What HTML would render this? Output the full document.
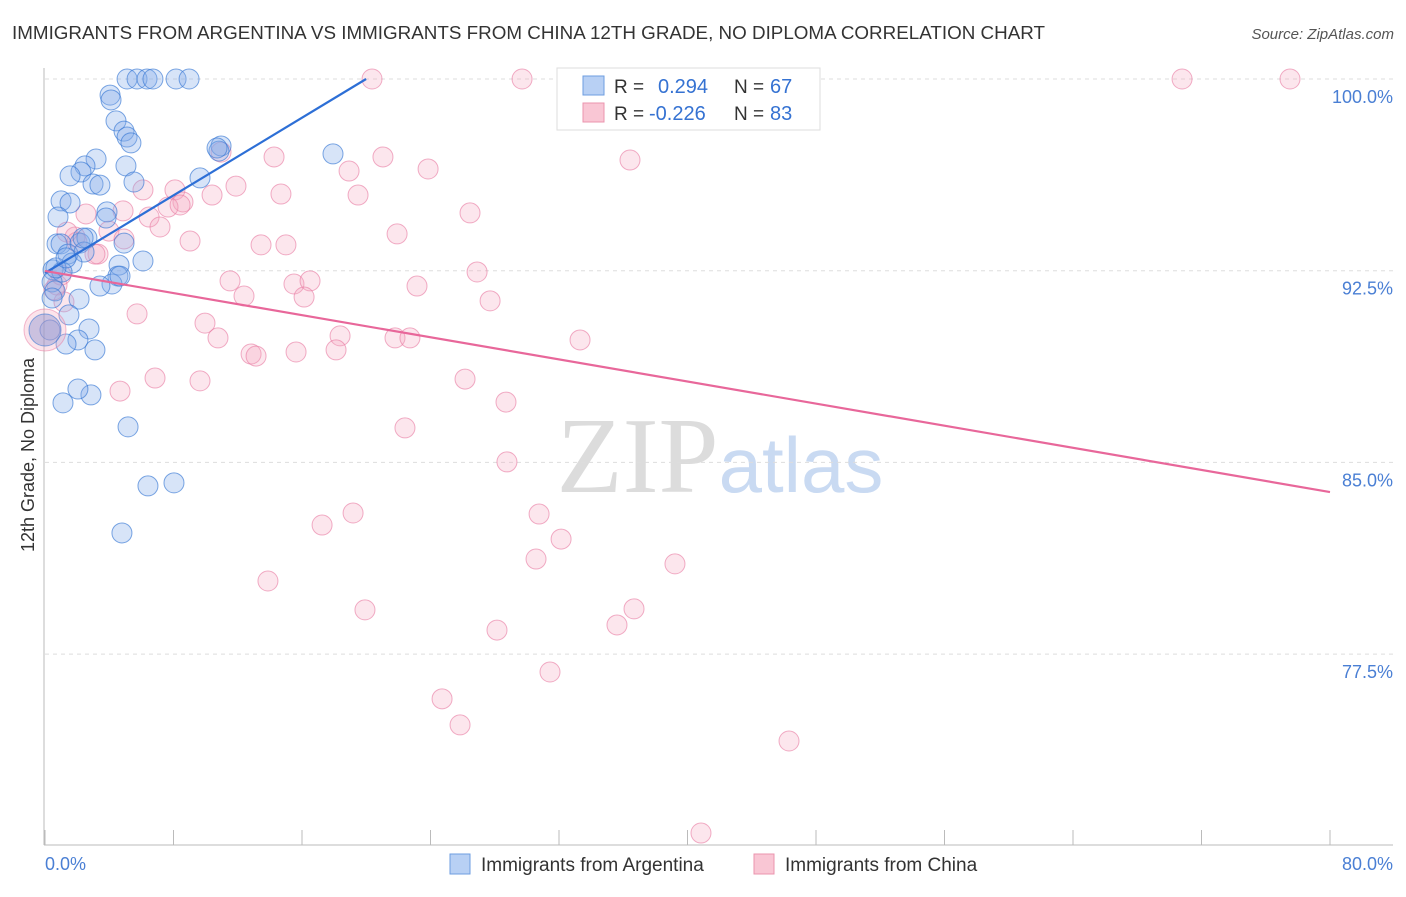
<!DOCTYPE html>
<html><head><meta charset="utf-8"><style>
body{margin:0;background:#fff;font-family:"Liberation Sans",sans-serif;}
svg text{font-family:"Liberation Sans",sans-serif;}
</style></head><body>
<svg id="chart" width="1406" height="892" xmlns="http://www.w3.org/2000/svg">
<text x="12" y="39" font-size="18" fill="#333" textLength="1033" lengthAdjust="spacingAndGlyphs">IMMIGRANTS FROM ARGENTINA VS IMMIGRANTS FROM CHINA 12TH GRADE, NO DIPLOMA CORRELATION CHART</text>
<text x="1394" y="39" font-size="15" fill="#555" text-anchor="end" font-style="italic">Source: ZipAtlas.com</text>
<text x="720" y="492" font-size="108" text-anchor="middle"><tspan fill="#dcdcdc" font-family="Liberation Serif">ZIP</tspan><tspan fill="#c9daf2" font-size="78">atlas</tspan></text>
<g id="grid"></g>
<g id="axes"></g>
<g id="pts"></g>
<g id="lines"></g>
<text transform="translate(34,455) rotate(-90)" font-size="18" fill="#333" text-anchor="middle">12th Grade, No Diploma</text>
<text x="45" y="870" font-size="18" fill="#4a7fd4">0.0%</text>
<text x="1393" y="870" font-size="18" fill="#4a7fd4" text-anchor="end">80.0%</text>
<g>
<rect x="557" y="68" width="263" height="62" fill="#fff" stroke="#ddd"/>
<rect x="583" y="76" width="21" height="19" fill="#b8d0f4" stroke="#6e9ee0"/>
<rect x="583" y="103" width="21" height="19" fill="#f9c6d4" stroke="#eb94ae"/>
<text x="614" y="93" font-size="19" fill="#333">R =</text>
<text x="658" y="93" font-size="20" fill="#3572d2">0.294</text>
<text x="734" y="93" font-size="19" fill="#333">N =</text>
<text x="770" y="93" font-size="20" fill="#3572d2">67</text>
<text x="614" y="120" font-size="19" fill="#333">R =</text>
<text x="649" y="120" font-size="20" fill="#3572d2">-0.226</text>
<text x="734" y="120" font-size="19" fill="#333">N =</text>
<text x="770" y="120" font-size="20" fill="#3572d2">83</text>
</g>
<g>
<rect x="450" y="854" width="20" height="20" fill="#b8d0f4" stroke="#6e9ee0"/>
<text x="481" y="871" font-size="19" fill="#333">Immigrants from Argentina</text>
<rect x="754" y="854" width="20" height="20" fill="#f9c6d4" stroke="#eb94ae"/>
<text x="785" y="871" font-size="19" fill="#333">Immigrants from China</text>
</g>
</svg>
<script>
const yTicks=[100,92.5,85,77.5];
const yTickLabels=["100.0%","92.5%","85.0%","77.5%"];
const xTicks=[0,8,16,24,32,40,48,56,64,72,80];
const blueX=[5.11,5.73,6.35,6.72,8.16,8.97,4.05,4.11,4.42,4.92,5.11,5.35,5.04,3.18,2.49,2.24,1.56,2.99,3.42,5.54,9.65,10.96,10.83,17.93,1.00,1.56,3.86,3.80,0.81,0.75,1.00,2.18,2.61,4.92,6.10,1.43,2.43,1.68,0.50,1.06,4.61,4.54,4.17,3.42,0.44,0.62,2.12,0.44,1.49,2.74,2.05,1.31,3.11,0.31,1.12,2.86,2.05,5.17,6.41,8.03,4.79,0.68,1.31,2.37,4.67,10.71];
const blueY=[100,100,100,100,100,100,99.37,99.18,98.36,97.96,97.73,97.50,96.60,96.87,96.60,96.36,96.21,95.89,95.85,95.97,96.13,97.38,97.18,97.07,95.23,95.15,94.80,94.56,94.60,93.55,93.55,93.58,93.78,93.58,92.88,93.15,93.23,92.80,92.53,92.45,92.72,92.29,91.98,91.90,92.06,91.71,91.39,91.43,90.77,90.22,89.79,89.63,89.40,90.18,87.33,87.64,87.87,86.39,84.08,84.20,82.24,92.61,93.00,93.78,92.29,97.30];
const pinkX=[20.36,29.70,32.87,70.79,77.51,10.96,14.26,21.04,23.85,36.42,18.93,19.49,6.10,8.09,11.89,14.69,10.40,8.59,7.66,4.86,2.55,6.48,26.46,7.16,3.98,4.92,1.87,9.03,13.45,15.00,21.92,3.30,26.90,11.52,15.50,16.50,23.16,12.39,16.13,27.71,0.75,1.18,5.73,9.96,10.77,18.37,21.79,22.72,33.31,12.83,13.14,15.63,18.12,6.85,9.65,4.67,26.15,28.70,22.41,28.76,17.25,19.18,30.76,32.13,30.57,39.22,13.88,19.92,36.67,35.61,28.14,31.44,24.72,25.84,46.32,40.84,1.00,0.56,1.99,3.11,1.37,8.41];
const pinkY=[100,100,100,100,100,97.14,96.95,96.95,96.48,96.83,96.40,95.46,95.66,95.66,95.81,95.50,95.46,95.19,94.99,94.84,94.72,94.60,94.76,94.21,94.05,93.74,93.82,93.66,93.51,93.51,93.94,93.15,92.45,92.10,91.98,92.10,91.90,91.51,91.47,91.32,91.94,91.28,90.81,90.45,89.87,89.95,89.87,89.87,89.79,89.24,89.16,89.32,89.40,88.30,88.19,87.79,88.26,87.36,86.35,85.02,82.55,83.02,82.98,82.00,81.22,81.03,80.36,79.23,79.27,78.64,78.44,76.80,75.75,74.73,74.10,70.50,92.33,91.75,93.62,93.15,94.01,95.07];
const bigX=[0,0];
const bigY=[90.18,90.18];
const blueTrend=[[0,92.41],[19.99,100]];
const pinkTrend=[[0,92.49],[80,83.84]];

const NS="http://www.w3.org/2000/svg";
const X=v=>45+v/80*1285;
const Y=v=>79+(100-v)/7.5*191.7;
function mk(parent,tag,attrs){const e=document.createElementNS(NS,tag);for(const k in attrs)e.setAttribute(k,attrs[k]);document.getElementById(parent).appendChild(e);return e;}
yTicks.forEach((t,i)=>{
 const l=mk('grid','line',{x1:45,x2:1393,y1:Y(t),y2:Y(t),stroke:'#ddd','stroke-dasharray':'4,4'});
 
 
 const tx=mk('grid','text',{x:1393,y:Y(t)+24,'font-size':18,fill:'#4a7fd4','text-anchor':'end'});
 tx.textContent=yTickLabels[i];
 
 
});
const ya=mk('axes','line',{x1:44,x2:44,y1:68,y2:845,stroke:'#bbb'});


const xa=mk('axes','line',{x1:44,x2:1393,y1:845,y2:845,stroke:'#bbb'});


xTicks.forEach(t=>{
 const l=mk('axes','line',{x1:X(t),x2:X(t),y1:830,y2:845,stroke:'#bbb'});
 
 
});
function dot(x,y,r,fill,stroke,name){
 const c=mk('pts','circle',{cx:X(x),cy:Y(y),r:r,fill:fill,stroke:stroke,'stroke-width':1});
 
 
}
pinkX.forEach((x,i)=>dot(x,pinkY[i],10,'rgba(245,165,190,0.28)','rgba(232,120,160,0.6)','china-point'));
blueX.forEach((x,i)=>dot(x,blueY[i],10,'rgba(130,172,232,0.32)','rgba(55,120,212,0.65)','argentina-point'));
dot(bigX[1],bigY[1],21,'rgba(245,165,190,0.3)','rgba(232,120,160,0.5)','china-point-large');
dot(bigX[0],bigY[0],16,'rgba(130,140,205,0.4)','rgba(55,120,212,0.6)','argentina-point-large');
const bl=mk('lines','line',{x1:X(blueTrend[0][0]),y1:Y(blueTrend[0][1]),x2:X(blueTrend[1][0]),y2:Y(blueTrend[1][1]),stroke:'#2d6fd6','stroke-width':2.2});


const pl=mk('lines','line',{x1:X(pinkTrend[0][0]),y1:Y(pinkTrend[0][1]),x2:X(pinkTrend[1][0]),y2:Y(pinkTrend[1][1]),stroke:'#e8679a','stroke-width':2.2});


</script>
</body></html>
